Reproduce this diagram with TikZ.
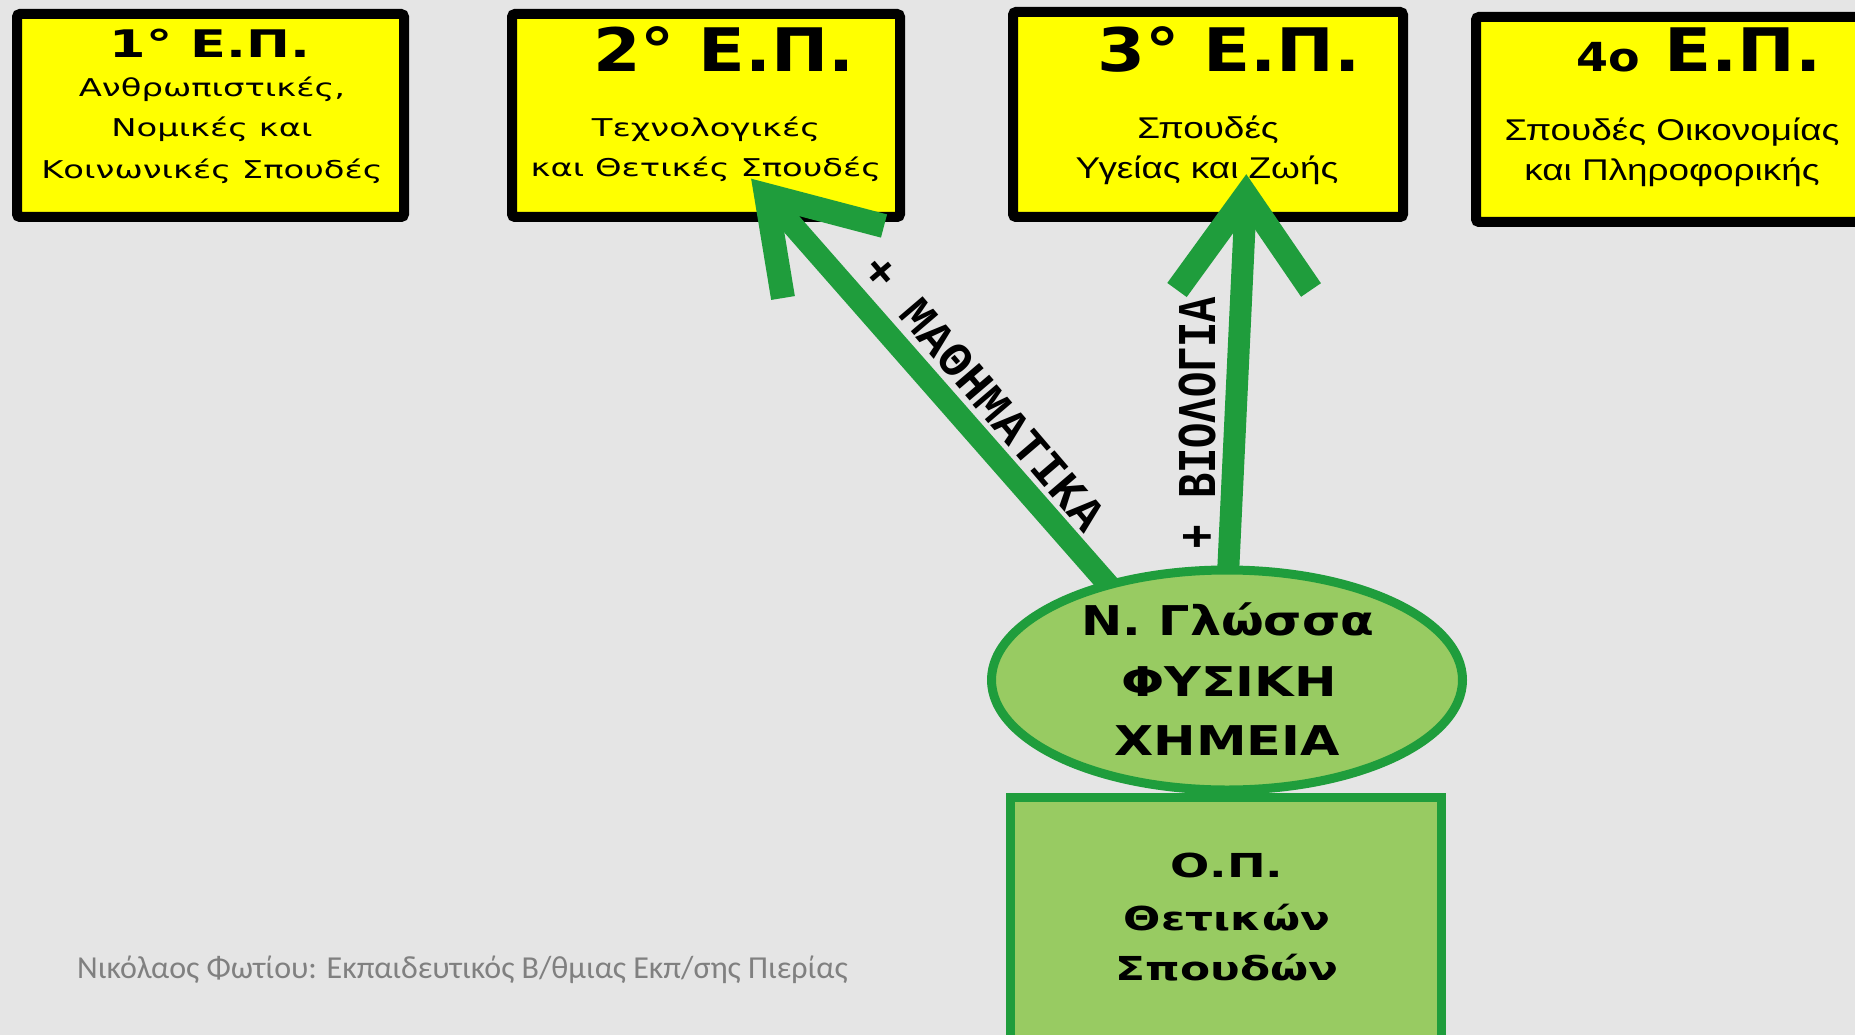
\documentclass[tikz,border=0pt]{standalone}
\usepackage{fontspec}
\usepackage{graphicx}
\setmainfont{DejaVu Sans}
\newfontfamily\monofnt{Liberation Mono}
\newfontfamily\arialfnt{Liberation Sans}
\newfontfamily\footfnt{Carlito}
\usetikzlibrary{calc,shapes.geometric}
\pgfdeclarelayer{bgl}
\pgfdeclarelayer{arl}
\pgfsetlayers{bgl,arl,main}
\definecolor{bgc}{RGB}{229,229,229}
\definecolor{yel}{RGB}{255,255,0}
\definecolor{dgreen}{RGB}{31,157,60}
\definecolor{lgreen}{RGB}{152,203,98}
\definecolor{footgray}{RGB}{128,128,128}
\newcommand{\wx}[2]{\scalebox{#1}[1]{#2}}
\newcommand{\fs}[1]{\fontsize{#1}{#1}\selectfont}
\begin{document}
\begin{tikzpicture}[x=1pt,y=1pt,
  epbox/.style={draw=black,line width=10pt,fill=yel,rounded corners=3pt,inner sep=0pt,minimum height=203pt},
  hd/.style={anchor=base,inner sep=0pt,font=\bfseries\fs{60}},
  bodyw/.style={anchor=base,inner sep=0pt,font=\fs{24.5}},
  bodya/.style={anchor=base,inner sep=0pt,font=\arialfnt\fs{30}},
  shaft/.style={draw=dgreen,line width=22pt},
  wing/.style={draw=dgreen,line width=24pt,line join=miter,line cap=butt},
  lbl/.style={inner sep=0pt,font=\monofnt\bfseries\fs{48}},
  elltxt/.style={anchor=base,inner sep=0pt,font=\bfseries\fs{41}},
  optxt/.style={anchor=base,inner sep=0pt,font=\bfseries\fs{33}}]
\useasboundingbox (0,0) rectangle (1855,-1035);
\begin{pgfonlayer}{bgl}
\fill[bgc] (0,0) rectangle (1855,-1035);
\node[epbox,minimum width=387pt] (box1) at (210.5,-115.5) {};
\node[epbox,minimum width=388pt] (box2) at (706,-115.5) {};
\node[epbox,minimum width=390pt,minimum height=205pt] (box3) at (1208,-114.5) {};
\node[epbox,minimum width=404pt,minimum height=205pt] (box4) at (1678,-119.5) {};
\end{pgfonlayer}

% O.P. box and ellipse
\node[draw=dgreen,line width=9pt,fill=lgreen,rectangle,inner sep=0pt,minimum width=431pt,minimum height=263pt] (op) at (1225.5,-928.5) {};
\node[draw=dgreen,line width=9pt,fill=lgreen,ellipse,inner sep=0pt,minimum width=471pt,minimum height=220pt] (ell) at (1227,-680) {};

% arrows
\coordinate (tipA) at (766,-195);
\coordinate (wA1) at (783,-298);
\coordinate (wA2) at (884,-226);
\coordinate (tipB) at (1246,-195);
\coordinate (wB1) at (1177,-290);
\coordinate (wB2) at (1311,-290);
\begin{pgfonlayer}{arl}
\draw[shaft] ($(ell.center)+(-35,0)$) -- (tipA);
\draw[wing] (wA1) -- (tipA) -- (wA2);
\draw[shaft] ($(ell.center)+(-4,0)$) -- (tipB);
\draw[wing] (wB1) -- (tipB) -- (wB2);
\end{pgfonlayer}

\node[lbl,rotate=-49.5] (lmath) at (984,-393) {+ ΜΑΘΗΜΑΤΙΚΑ};
\node[lbl,rotate=90,font=\monofnt\bfseries\fs{42}] (lbio) at (1197,-423) {\scalebox{1}[1.3]{+ ΒΙΟΛΟΓΙΑ}};

% box texts
\node[hd,font=\bfseries\fs{38}] (h1) at (210,-58) {\wx{1.38}{1° Ε.Π.}};
\node[bodyw] (b1a) at (212,-97) {\wx{1.38}{Ανθρωπιστικές,}};
\node[bodyw] (b1b) at (212,-136.5) {\wx{1.38}{Νομικές και}};
\node[bodyw] (b1c) at (212,-178.5) {\wx{1.38}{Κοινωνικές Σπουδές}};

\node[hd] (h2) at (724,-72) {\wx{1.14}{2° Ε.Π.}};
\node[bodyw] (b2a) at (706,-137) {\wx{1.38}{Τεχνολογικές}};
\node[bodyw] (b2b) at (706,-176.5) {\wx{1.38}{και Θετικές Σπουδές}};

\node[hd] (h3) at (1229,-72) {\wx{1.15}{3° Ε.Π.}};
\node[bodya] (b3a) at (1208,-139) {\wx{1.23}{Σπουδές}};
\node[bodya] (b3b) at (1207,-179) {\wx{1.23}{Υγείας και Ζωής}};

\node[hd] (h4) at (1699,-72) {\wx{1.15}{{\fs{40}4ο} Ε.Π.}};
\node[bodya] (b4a) at (1672,-141) {\wx{1.23}{Σπουδές Οικονομίας}};
\node[bodya] (b4b) at (1672,-181) {\wx{1.23}{και Πληροφορικής}};

% ellipse text
\node[elltxt] (e1) at (1228,-635) {\wx{1.2}{Ν. Γλώσσα}};
\node[elltxt] (e2) at (1229,-696) {\wx{1.24}{ΦΥΣΙΚΗ}};
\node[elltxt] (e3) at (1227,-755) {\wx{1.24}{ΧΗΜΕΙΑ}};

% O.P. text
\node[optxt] (o1) at (1227,-877) {\wx{1.4}{Ο.Π.}};
\node[optxt] (o2) at (1227,-930) {\wx{1.33}{Θετικών}};
\node[optxt] (o3) at (1227,-980) {\wx{1.33}{Σπουδών}};

% footer
\node[anchor=base west,inner sep=0pt,font=\footfnt\fs{32},text=footgray] (foot) at (77,-978) {Νικόλαος Φωτίου: Εκπαιδευτικός Β/θμιας Εκπ/σης Πιερίας};
\end{tikzpicture}
\end{document}
